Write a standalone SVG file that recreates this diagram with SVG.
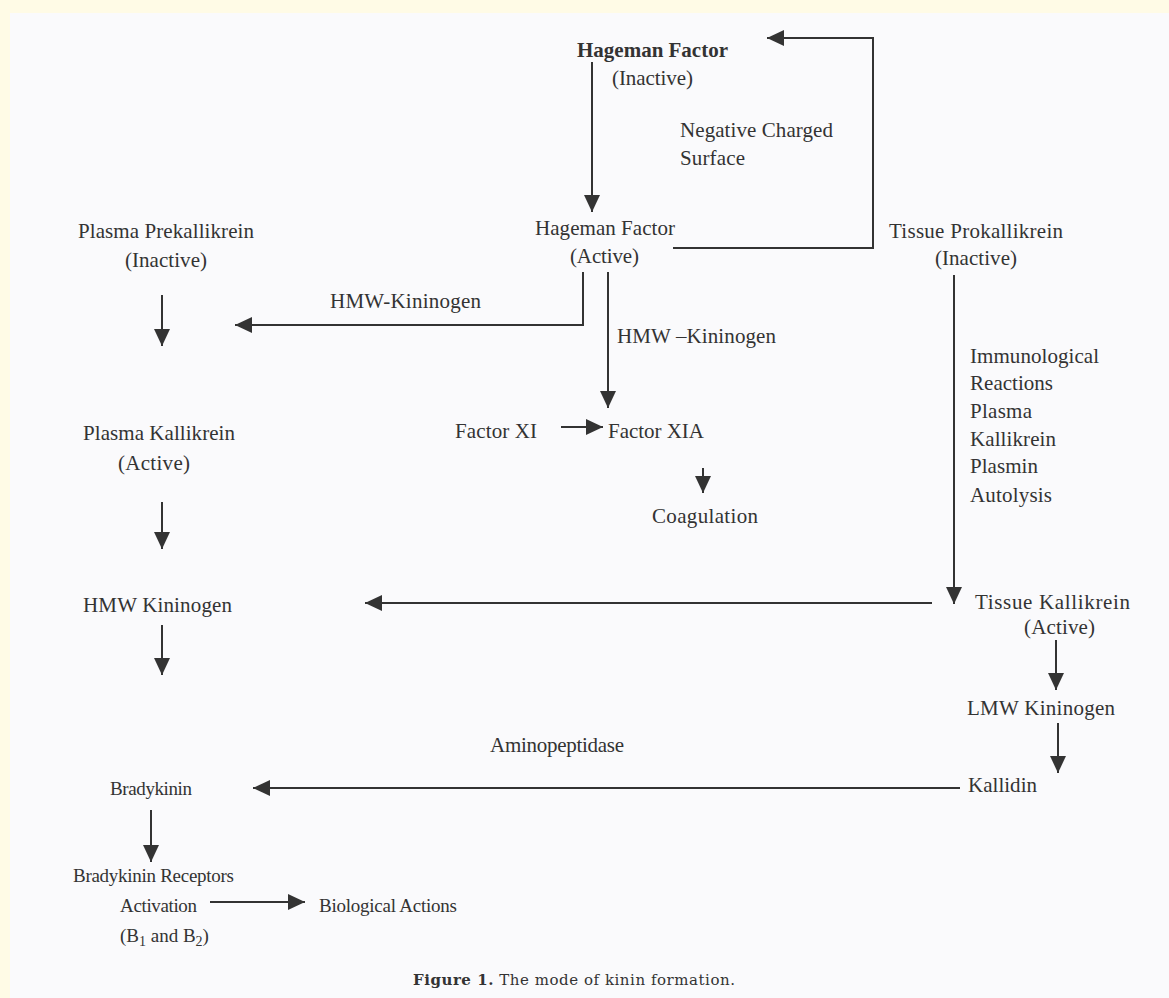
<svg xmlns="http://www.w3.org/2000/svg" width="1169" height="998" viewBox="0 0 1169 998">
<style>
text{font-family:"Liberation Serif","Times New Roman",serif;font-size:21px;fill:#333;}
.b{font-weight:bold;}
.s{font-size:19px;}
.cap{font-family:"DejaVu Serif","Liberation Serif",serif;font-size:15px;}
.c{fill:none;stroke:#333;stroke-width:2;marker-end:url(#ah);}
</style>
<defs>
<marker id="ah" markerUnits="userSpaceOnUse" markerWidth="18" markerHeight="16" refX="17" refY="8" orient="auto">
<path d="M0,0 L17,8 L0,16 z" fill="#333"/>
</marker>
</defs>
<rect width="1169" height="998" fill="#FFFBE6"/>
<rect x="10" y="13" width="1159" height="985" fill="#FAFAFC"/>
<g id="connectors">
<path class="c" d="M592,62 V212"/>
<path class="c" d="M673,248 H873 V38 H767"/>
<path class="c" d="M583,272 V325 H235"/>
<path class="c" d="M608,272 V408"/>
<path class="c" d="M561,427 H603"/>
<path class="c" d="M703,468 V493"/>
<path class="c" d="M162,295 V346"/>
<path class="c" d="M162,502 V549"/>
<path class="c" d="M162,625 V675"/>
<path class="c" d="M954,275 V604"/>
<path class="c" d="M932,603 H365"/>
<path class="c" d="M1056,640 V690"/>
<path class="c" d="M1058,723 V773"/>
<path class="c" d="M960,788 H253"/>
<path class="c" d="M151,810 V862"/>
<path class="c" d="M210,902 H305"/>
</g>
<g id="hf-inactive"><text class="b" x="577" y="57" textLength="151">Hageman Factor</text><text x="612" y="85" textLength="81">(Inactive)</text></g>
<g id="ncs-label"><text x="680" y="137" textLength="153">Negative Charged</text><text x="680" y="165" textLength="65">Surface</text></g>
<g id="hf-active"><text x="535" y="235" textLength="140">Hageman Factor</text><text x="570" y="263" textLength="69">(Active)</text></g>
<g id="plasma-prekallikrein"><text x="78" y="238" textLength="176">Plasma Prekallikrein</text><text x="125" y="267" textLength="82">(Inactive)</text></g>
<g id="tissue-prokallikrein"><text x="889" y="238" textLength="174">Tissue Prokallikrein</text><text x="935" y="265" textLength="82">(Inactive)</text></g>
<g id="hmw-label1"><text x="330" y="308" textLength="151">HMW-Kininogen</text></g>
<g id="hmw-label2"><text x="617" y="343" textLength="159">HMW –Kininogen</text></g>
<g id="factor-xi"><text x="455" y="438" textLength="82">Factor XI</text></g>
<g id="factor-xia"><text x="608" y="438" textLength="96">Factor XIA</text></g>
<g id="coagulation"><text x="652" y="523" textLength="106">Coagulation</text></g>
<g id="tissue-activators">
<text x="970" y="363" textLength="129">Immunological</text>
<text x="970" y="390" textLength="83">Reactions</text>
<text x="970" y="418" textLength="62">Plasma</text>
<text x="970" y="446" textLength="86">Kallikrein</text>
<text x="970" y="473" textLength="68">Plasmin</text>
<text x="970" y="502" textLength="82">Autolysis</text>
</g>
<g id="plasma-kallikrein"><text x="83" y="440" textLength="152">Plasma Kallikrein</text><text x="118" y="470" textLength="72">(Active)</text></g>
<g id="hmw-kininogen"><text x="83" y="612" textLength="149">HMW Kininogen</text></g>
<g id="tissue-kallikrein"><text x="975" y="609" textLength="155">Tissue Kallikrein</text><text x="1024" y="634" textLength="71">(Active)</text></g>
<g id="lmw-kininogen"><text x="967" y="715" textLength="148">LMW Kininogen</text></g>
<g id="kallidin"><text x="968" y="792" textLength="69">Kallidin</text></g>
<g id="aminopeptidase"><text x="490" y="752" textLength="134">Aminopeptidase</text></g>
<g id="bradykinin"><text class="s" x="110" y="795" textLength="82">Bradykinin</text></g>
<g id="receptors"><text class="s" x="73" y="882" textLength="161">Bradykinin Receptors</text><text class="s" x="120" y="912" textLength="77">Activation</text><text class="s" x="120" y="942">(B<tspan font-size="14" dy="4">1</tspan><tspan dy="-4"> and B</tspan><tspan font-size="14" dy="4">2</tspan><tspan dy="-4">)</tspan></text></g>
<g id="biological-actions"><text class="s" x="319" y="912" textLength="138">Biological Actions</text></g>
<g id="caption"><text class="cap" x="413" y="985" textLength="322"><tspan font-weight="bold">Figure 1.</tspan> The mode of kinin formation.</text></g>
</svg>
